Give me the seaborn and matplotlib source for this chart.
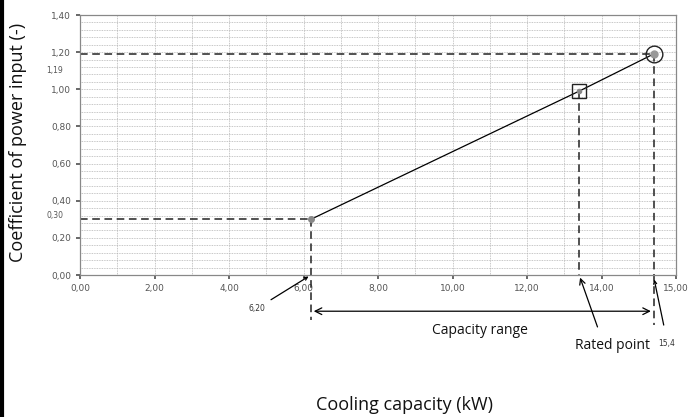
"""
Coefficient of power input vs cooling capacity (scanned Excel-style chart).
"""
import matplotlib
matplotlib.use("Agg")
import matplotlib.pyplot as plt
import numpy as np
import pandas as pd
import seaborn as sns
from matplotlib.lines import Line2D

# data
cap_kw = [6.2, 13.4, 15.4]
coef = [0.30, 0.99, 1.19]
point_kind = ["min", "rated", "max"]

xtick_vals = [0, 2, 4, 6, 8, 10, 12, 14, 16]
xtick_labels = ["0,00", "2,00", "4,00", "6,00", "8,00", "10,00", "12,00", "14,00", "15,00"]
ytick_vals = [0.0, 0.2, 0.4, 0.6, 0.8, 1.0, 1.2, 1.4]
ytick_labels = ["0,00", "0,20", "0,40", "0,60", "0,80", "1,00", "1,20", "1,40"]

df = pd.DataFrame({"cap": cap_kw, "coef": coef, "kind": point_kind})

sns.set_theme(style="white")
plt.rcParams["font.family"] = ["Open Sans", "DejaVu Sans"]

fig = plt.figure(figsize=(6.91, 4.17), dpi=100)
ax = fig.add_axes([80 / 691, 1 - 275 / 417, 596 / 691, 260 / 417])

# grid: every 1 kW and every 0.04
grid_kw = dict(color="#b4b4b4", lw=0.6, ls=(0, (1, 1)), zorder=0)
for gx in np.arange(1, 16, 1):
    ax.axvline(gx, **grid_kw)
for gy in np.arange(0.04, 1.4, 0.04):
    ax.axhline(gy, **grid_kw)

# main line
sns.lineplot(data=df, x="cap", y="coef", color="black", lw=0.9, ax=ax,
             legend=False, zorder=3)

# markers
lo, rated, hi = df.iloc[0], df.iloc[1], df.iloc[2]
ax.plot(lo.cap, lo.coef, "o", ms=4, color="#888888", zorder=4)
ax.plot(rated.cap, rated.coef, "s", ms=10, mfc="none", mec="#222222", mew=1.0, zorder=4)
ax.plot(rated.cap, rated.coef, "o", ms=3, color="#888888", zorder=4)
ax.plot(hi.cap, hi.coef, "o", ms=12, mfc="none", mec="#222222", mew=1.0, zorder=4)
ax.plot(hi.cap, hi.coef, "o", ms=5, color="#999999", zorder=4)

# dashed guide lines
dash = dict(color="#222222", lw=1.1, ls=(0, (5, 3)), clip_on=False, zorder=2)
ax.plot([0, lo.cap], [lo.coef, lo.coef], **dash)
ax.plot([0, hi.cap], [hi.coef, hi.coef], **dash)
ax.plot([lo.cap, lo.cap], [lo.coef, -0.24], **dash)
ax.plot([rated.cap, rated.cap], [rated.coef, 0], **dash)
ax.plot([hi.cap, hi.cap], [hi.coef, -0.27], **dash)

ax.set_xlim(0, 16)
ax.set_ylim(0, 1.4)
ax.set_xticks(xtick_vals)
ax.set_xticklabels(xtick_labels, family="DejaVu Sans")
ax.set_yticks(ytick_vals)
ax.set_yticklabels(ytick_labels, family="DejaVu Sans")
ax.tick_params(axis="both", labelsize=6.5, colors="#555555", length=3,
               direction="out", left=True, bottom=True)
for side in ["top", "right", "left", "bottom"]:
    ax.spines[side].set_color("#888888")
    ax.spines[side].set_linewidth(0.9)

# extra value labels on the y axis
ax.text(-0.45, lo.coef + 0.02, "0,30", fontsize=5.5, color="#555555",
        ha="right", va="center", family="DejaVu Sans")
ax.text(-0.45, 1.10, "1,19", fontsize=5.5, color="#555555",
        ha="right", va="center", family="DejaVu Sans")

# annotations below the axis
arr = dict(arrowstyle="->", color="black", lw=0.9)
ax.annotate("6,20", xy=(lo.cap, 0), xytext=(4.75, -0.18), fontsize=5.5,
            color="#333333", ha="center", va="center", family="DejaVu Sans",
            arrowprops=arr, annotation_clip=False)
ax.annotate("", xy=(lo.cap, -0.195), xytext=(hi.cap, -0.195),
            arrowprops=dict(arrowstyle="<->", color="black", lw=0.9),
            annotation_clip=False)
ax.text(10.75, -0.30, "Capacity range", fontsize=10, ha="center", va="center",
        color="#111111")
ax.annotate("Rated point", xy=(rated.cap, 0), xytext=(14.3, -0.38), fontsize=10,
            ha="center", va="center", color="#111111",
            arrowprops=dict(arrowstyle="->", color="black", lw=0.9,
                            relpos=(0.35, 1.0), shrinkA=6),
            annotation_clip=False)
ax.annotate("15,4", xy=(hi.cap, -0.01), xytext=(15.75, -0.37), fontsize=5.5,
            color="#333333", ha="center", va="center", family="DejaVu Sans",
            arrowprops=dict(arrowstyle="->", color="black", lw=0.9,
                            relpos=(0.5, 1.0), shrinkA=8),
            annotation_clip=False)

ax.set_xlabel("")
ax.set_ylabel("")
fig.text(405 / 691, 1 - 405 / 417, "Cooling capacity (kW)", fontsize=13,
         ha="center", va="center", color="#111111")
fig.text(18 / 691, 1 - 142 / 417, "Coefficient of power input (-)", fontsize=13,
         rotation=90, ha="center", va="center", color="#111111")

# left border of the scanned page
fig.add_artist(Line2D([1.5 / 691, 1.5 / 691], [0, 1], color="black", lw=3,
                      transform=fig.transFigure))

fig.savefig("out.png", dpi=100, facecolor="white")
